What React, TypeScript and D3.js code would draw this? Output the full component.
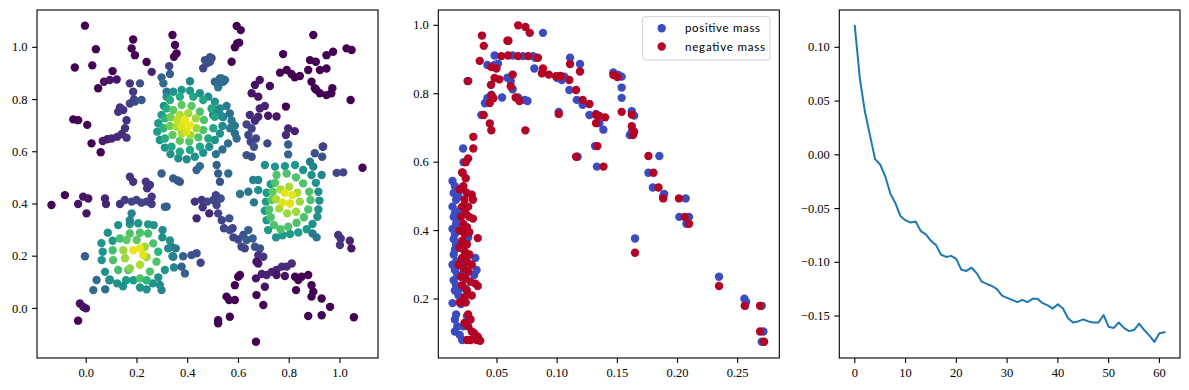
import React from "react";
import * as d3 from "d3";

const W = 1189;
const H = 390;
const top = 10;
const bottom = 358;

// ---- panel 1: field points [x, y, colour value]
const p1XTicks = [0, 0.2, 0.4, 0.6, 0.8, 1.0];
const p1YTicks = [0, 0.2, 0.4, 0.6, 0.8, 1.0];
const p1Outer: [number, number, number][] = [
  [-0.005, 1.083, 0], [0.038, 0.993, 0], [-0.045, 0.923, 0], [0.024, 0.931, 0], [0.047, 0.843, 0],
  [0.07, 0.868, 0.05], [0.093, 0.875, 0.05], [0.104, 0.909, 0], [0.12, 0.877, 0.05],
  [-0.051, 0.724, 0], [-0.032, 0.721, 0], [0.004, 0.703, 0], [0.021, 0.632, 0], [0.057, 0.598, 0],
  [0.065, 0.641, 0.08], [0.083, 0.648, 0.08], [0.1, 0.651, 0.1], [0.122, 0.657, 0.1], [0.14, 0.668, 0.12], [0.159, 0.654, 0.15],
  [0.133, 0.77, 0.15], [0.146, 0.76, 0.15], [0.126, 0.753, 0.15], [0.159, 0.721, 0.15], [0.153, 0.69, 0.15],
  [0.172, 0.862, 0.15], [0.185, 0.83, 0.17], [0.188, 0.8, 0.18], [0.172, 0.785, 0.2], [0.192, 0.792, 0.22], [0.212, 0.862, 0.25], [0.218, 0.798, 0.28],
  [0.185, 1.03, 0], [0.179, 0.996, 0], [0.192, 0.97, 0], [0.238, 0.944, 0], [0.258, 0.906, 0.1],
  [0.297, 0.885, 0.32], [0.304, 0.862, 0.35], [0.317, 0.83, 0.38],
  [0.34, 1.047, 0], [0.35, 1.009, 0], [0.356, 0.977, 0], [0.346, 0.964, 0], [0.327, 0.928, 0.2], [0.33, 0.898, 0.3],
  [0.409, 0.87, 0.45], [0.461, 0.92, 0.2], [0.475, 0.939, 0.22], [0.494, 0.958, 0.2], [0.488, 0.945, 0.25],
  [0.507, 0.868, 0.3], [0.527, 0.881, 0.35], [0.54, 0.868, 0.35], [0.52, 0.847, 0.4],
  [0.593, 1.082, 0], [0.609, 1.066, 0], [0.595, 1.015, 0], [0.586, 1.0, 0], [0.603, 1.018, 0], [0.573, 0.945, 0],
  [0.776, 0.974, 0], [0.895, 1.047, 0], [0.947, 0.97, 0], [0.973, 0.983, 0], [1.026, 0.996, 0], [1.046, 0.99, 0],
  [0.882, 0.951, 0], [0.905, 0.945, 0], [0.947, 0.919, 0], [0.921, 0.913, 0],
  [0.764, 0.903, 0], [0.79, 0.913, 0], [0.809, 0.898, 0], [0.822, 0.885, 0], [0.842, 0.89, 0], [0.875, 0.913, 0],
  [0.888, 0.868, 0], [0.901, 0.843, 0], [0.921, 0.824, 0], [0.947, 0.817, 0], [0.966, 0.824, 0], [0.97, 0.843, 0], [0.907, 0.837, 0],
  [1.042, 0.798, 0], [0.684, 0.875, 0.05], [0.665, 0.856, 0.05], [0.652, 0.824, 0.05], [0.678, 0.811, 0.05], [0.724, 0.852, 0.02],
  [0.787, 0.773, 0], [0.684, 0.766, 0.1], [0.704, 0.775, 0.1], [0.678, 0.734, 0.1], [0.665, 0.719, 0.12], [0.645, 0.741, 0.12],
  [0.717, 0.738, 0.05], [0.75, 0.735, 0.05],
  [0.632, 0.705, 0.2], [0.652, 0.689, 0.2], [0.639, 0.664, 0.22], [0.648, 0.638, 0.2], [0.669, 0.651, 0.2], [0.714, 0.632, 0.22],
  [0.796, 0.689, 0.1], [0.822, 0.679, 0.1], [0.787, 0.664, 0.12], [0.796, 0.628, 0.3], [0.796, 0.59, 0.32],
  [0.934, 0.62, 0.2], [0.901, 0.594, 0.25], [0.93, 0.581, 0.25], [0.632, 0.587, 0.25], [0.652, 0.581, 0.25], [0.661, 0.619, 0.25],
  [1.089, 0.539, 0], [0.987, 0.519, 0.2], [1.013, 0.521, 0.2],
  [0.559, 0.632, 0.35], [0.537, 0.609, 0.35], [0.511, 0.591, 0.38],
  [0.573, 0.72, 0.4], [0.586, 0.7, 0.4], [0.567, 0.69, 0.42], [0.54, 0.733, 0.4],
  [0.508, 0.76, 0.45], [0.527, 0.741, 0.45], [0.5, 0.741, 0.45], [0.521, 0.868, 0.35], [0.547, 0.875, 0.35], [0.534, 0.881, 0.35],
  [0.468, 0.951, 0.25], [0.488, 0.962, 0.25], [0.553, 0.775, 0.4], [0.566, 0.747, 0.35], [0.586, 0.67, 0.35], [0.593, 0.651, 0.35],
  [0.297, 0.517, 0.3], [0.343, 0.498, 0.28], [0.369, 0.485, 0.25], [0.36, 0.49, 0.28], [0.435, 0.53, 0.3], [0.448, 0.545, 0.35],
  [0.514, 0.549, 0.32], [0.52, 0.517, 0.3], [0.527, 0.485, 0.25], [0.56, 0.517, 0.35],
  // middle diagonal band
  [0.428, 0.409, 0.15], [0.455, 0.415, 0.15], [0.477, 0.409, 0.2], [0.501, 0.415, 0.2], [0.514, 0.396, 0.2], [0.52, 0.364, 0.2],
  [0.534, 0.338, 0.2], [0.543, 0.307, 0.2], [0.566, 0.3, 0.25], [0.58, 0.272, 0.2], [0.599, 0.264, 0.2], [0.619, 0.281, 0.25],
  [0.639, 0.3, 0.3], [0.632, 0.262, 0.3], [0.656, 0.268, 0.3], [0.665, 0.236, 0.25], [0.685, 0.23, 0.25], [0.678, 0.204, 0.15],
  [0.698, 0.198, 0.15], [0.612, 0.236, 0.2], [0.625, 0.23, 0.2], [0.564, 0.345, 0.25], [0.53, 0.421, 0.25], [0.511, 0.434, 0.2],
  [0.485, 0.364, 0.1], [0.435, 0.345, 0.1], [0.459, 0.387, 0.15], [0.577, 0.307, 0.2],
  // bottom right
  [0.671, 0.179, 0.05], [0.678, 0.172, 0.05], [0.606, 0.128, 0], [0.599, 0.121, 0], [0.586, 0.089, 0],
  [0.553, 0.045, 0], [0.563, 0.032, 0], [0.586, 0.032, 0], [0.566, -0.032, 0], [0.52, -0.045, 0], [0.52, -0.057, 0],
  [0.671, 0.051, 0], [0.698, 0.013, 0], [0.669, -0.128, 0], [0.669, 0.115, 0.05], [0.704, 0.083, 0.05],
  [0.692, 0.132, 0.1], [0.711, 0.128, 0.1], [0.731, 0.14, 0.1], [0.75, 0.147, 0.1], [0.771, 0.16, 0.12], [0.79, 0.16, 0.12], [0.81, 0.172, 0.12],
  [0.75, 0.128, 0.05], [0.783, 0.124, 0.05], [0.823, 0.121, 0], [0.836, 0.109, 0], [0.849, 0.121, 0], [0.827, 0.07, 0],
  [0.875, 0.128, 0], [0.888, 0.089, 0], [0.895, 0.064, 0], [0.888, 0.045, 0], [0.928, 0.038, 0], [0.961, 0.006, 0],
  [0.875, -0.029, 0], [0.928, -0.026, 0], [1.055, -0.034, 0],
  [0.993, 0.281, 0.15], [1.003, 0.268, 0.15], [1.0, 0.243, 0.15], [1.039, 0.259, 0.1], [1.045, 0.23, 0.05],
  // bottom left
  [-0.005, 0.2, 0.3], [0.041, 0.109, 0.35], [0.028, 0.07, 0.35], [-0.025, 0.019, 0.05], [-0.012, 0.006, 0.05], [-0.001, 0, 0.05],
  [-0.032, -0.047, 0], [-0.084, 0.434, 0], [-0.137, 0.396, 0], [-0.032, 0.4, 0.05], [-0.012, 0.428, 0.05], [0.008, 0.421, 0.05],
  [0.001, 0.364, 0.05], [0.074, 0.421, 0.1], [0.078, 0.4, 0.1],
  [0.133, 0.4, 0.15], [0.152, 0.415, 0.18], [0.179, 0.409, 0.2], [0.198, 0.415, 0.2], [0.218, 0.405, 0.2], [0.238, 0.409, 0.2], [0.258, 0.4, 0.18],
  [0.172, 0.504, 0.15], [0.185, 0.485, 0.15], [0.235, 0.485, 0.15], [0.24, 0.46, 0.15], [0.258, 0.428, 0.15], [0.251, 0.473, 0.15],
  [0.317, 0.39, 0.3], [0.179, 0.364, 0.45], [0.31, 0.389, 0.3],
  [0.336, 0.236, 0.4], [0.353, 0.23, 0.4], [0.343, 0.198, 0.35], [0.382, 0.2, 0.3], [0.415, 0.204, 0.25], [0.435, 0.211, 0.25],
  [0.451, 0.175, 0.2], [0.376, 0.16, 0.3], [0.389, 0.134, 0.3], [0.297, 0.07, 0.45], [0.091, 0.108, 0.4], [0.075, 0.073, 0.35],
  // near cluster 3
  [0.678, 0.492, 0.45], [0.658, 0.492, 0.45], [0.639, 0.447, 0.4], [0.661, 0.406, 0.4], [0.606, 0.438, 0.4], [0.678, 0.453, 0.5],
  [0.882, 0.562, 0.4], [0.895, 0.543, 0.45], [0.928, 0.511, 0.45], [0.932, 0.619, 0.2], [0.892, 0.287, 0.4], [0.908, 0.272, 0.4],
];
const p1Rings: [number, number, number][] = [
  // cluster at (0.4, 0.7)
  [0.317, 0.811, 0.5], [0.343, 0.83, 0.52], [0.376, 0.837, 0.52], [0.409, 0.834, 0.52], [0.448, 0.824, 0.5], [0.481, 0.811, 0.5],
  [0.507, 0.792, 0.5], [0.527, 0.766, 0.48], [0.537, 0.734, 0.48], [0.537, 0.699, 0.48], [0.527, 0.67, 0.5], [0.507, 0.645, 0.5],
  [0.485, 0.619, 0.5], [0.461, 0.596, 0.5], [0.428, 0.581, 0.5], [0.396, 0.571, 0.48], [0.363, 0.575, 0.5], [0.332, 0.591, 0.5],
  [0.31, 0.616, 0.52], [0.29, 0.645, 0.52], [0.28, 0.677, 0.55], [0.284, 0.709, 0.55], [0.297, 0.741, 0.55], [0.306, 0.775, 0.52],
  [0.33, 0.798, 0.62], [0.369, 0.811, 0.62], [0.422, 0.811, 0.6], [0.461, 0.798, 0.6], [0.494, 0.766, 0.6], [0.507, 0.734, 0.6],
  [0.501, 0.69, 0.6], [0.481, 0.651, 0.6], [0.448, 0.619, 0.6], [0.409, 0.607, 0.6], [0.369, 0.6, 0.6], [0.336, 0.619, 0.6],
  [0.31, 0.651, 0.62], [0.304, 0.69, 0.65], [0.31, 0.728, 0.65], [0.317, 0.766, 0.62],
  [0.343, 0.76, 0.75], [0.376, 0.779, 0.75], [0.415, 0.775, 0.75], [0.448, 0.753, 0.72], [0.464, 0.722, 0.72], [0.461, 0.683, 0.72],
  [0.442, 0.655, 0.72], [0.406, 0.639, 0.72], [0.369, 0.642, 0.75], [0.34, 0.664, 0.75], [0.33, 0.699, 0.78], [0.332, 0.732, 0.78],
  [0.369, 0.741, 0.88], [0.402, 0.747, 0.86], [0.432, 0.728, 0.85], [0.435, 0.69, 0.85], [0.411, 0.664, 0.86], [0.376, 0.67, 0.88],
  [0.356, 0.696, 0.88], [0.359, 0.722, 0.9], [0.389, 0.722, 0.97], [0.409, 0.702, 0.97], [0.396, 0.677, 0.95], [0.376, 0.699, 0.95],
  // cluster at (0.2, 0.2)
  [0.126, 0.319, 0.5], [0.172, 0.323, 0.52], [0.205, 0.326, 0.52], [0.244, 0.322, 0.52], [0.266, 0.319, 0.5], [0.301, 0.3, 0.48],
  [0.3, 0.272, 0.5], [0.323, 0.23, 0.48], [0.34, 0.2, 0.45], [0.346, 0.157, 0.45], [0.31, 0.147, 0.5], [0.284, 0.119, 0.5],
  [0.262, 0.096, 0.5], [0.238, 0.073, 0.5], [0.212, 0.08, 0.52], [0.186, 0.108, 0.55], [0.157, 0.108, 0.55], [0.122, 0.096, 0.5],
  [0.093, 0.111, 0.5], [0.074, 0.14, 0.5], [0.061, 0.185, 0.5], [0.065, 0.217, 0.52], [0.104, 0.259, 0.55], [0.172, 0.338, 0.45],
  [0.085, 0.29, 0.5], [0.06, 0.25, 0.52], [0.33, 0.26, 0.5], [0.29, 0.09, 0.48], [0.145, 0.085, 0.5],
  [0.133, 0.268, 0.7], [0.172, 0.287, 0.72], [0.212, 0.29, 0.72], [0.244, 0.287, 0.7], [0.264, 0.249, 0.72], [0.284, 0.217, 0.65],
  [0.277, 0.179, 0.72], [0.251, 0.141, 0.72], [0.212, 0.115, 0.72], [0.166, 0.147, 0.72], [0.126, 0.147, 0.7], [0.106, 0.185, 0.72],
  [0.104, 0.223, 0.7], [0.199, 0.262, 0.75], [0.159, 0.262, 0.75], [0.238, 0.108, 0.65],
  [0.146, 0.223, 0.85], [0.153, 0.192, 0.85], [0.172, 0.153, 0.82], [0.238, 0.197, 0.85], [0.231, 0.236, 0.85], [0.212, 0.167, 0.88],
  [0.186, 0.223, 0.97], [0.212, 0.23, 0.97], [0.225, 0.204, 0.95],
  // cluster at (0.8, 0.4)
  [0.704, 0.549, 0.5], [0.744, 0.543, 0.52], [0.783, 0.545, 0.52], [0.823, 0.549, 0.52], [0.855, 0.53, 0.5], [0.888, 0.511, 0.5],
  [0.905, 0.481, 0.5], [0.915, 0.447, 0.5], [0.919, 0.413, 0.5], [0.915, 0.379, 0.5], [0.911, 0.351, 0.5], [0.892, 0.323, 0.5],
  [0.869, 0.303, 0.55], [0.836, 0.291, 0.55], [0.803, 0.285, 0.55], [0.774, 0.28, 0.55], [0.748, 0.272, 0.5], [0.717, 0.3, 0.55],
  [0.711, 0.338, 0.55], [0.704, 0.374, 0.55], [0.708, 0.409, 0.55], [0.711, 0.443, 0.55], [0.727, 0.476, 0.55],
  [0.75, 0.511, 0.72], [0.79, 0.517, 0.72], [0.827, 0.502, 0.72], [0.855, 0.479, 0.72], [0.879, 0.447, 0.72], [0.884, 0.415, 0.72],
  [0.875, 0.379, 0.72], [0.858, 0.349, 0.72], [0.829, 0.328, 0.72], [0.796, 0.313, 0.72], [0.766, 0.303, 0.72], [0.74, 0.319, 0.72],
  [0.727, 0.349, 0.72], [0.721, 0.379, 0.72], [0.731, 0.415, 0.75], [0.735, 0.447, 0.75], [0.744, 0.481, 0.72],
  [0.766, 0.456, 0.87], [0.8, 0.466, 0.87], [0.832, 0.443, 0.87], [0.842, 0.409, 0.85], [0.827, 0.37, 0.85], [0.792, 0.364, 0.85],
  [0.761, 0.383, 0.87], [0.748, 0.418, 0.87], [0.783, 0.443, 0.96], [0.813, 0.434, 0.96], [0.803, 0.402, 0.95], [0.774, 0.406, 0.95],
];

// ---- panel 2: positive / negative mass
const p2XTicks = [0.05, 0.1, 0.15, 0.2, 0.25];
const p2YTicks = [0.2, 0.4, 0.6, 0.8, 1.0];
const positiveMass: [number, number][] = [
  [0.0882, 0.978], [0.048, 0.912], [0.063, 0.912], [0.0717, 0.91], [0.08, 0.91], [0.0818, 0.905],
  [0.042, 0.884], [0.048, 0.884], [0.0508, 0.888], [0.081, 0.874], [0.1, 0.846], [0.106, 0.85],
  [0.0255, 0.837], [0.045, 0.826], [0.0586, 0.847], [0.0614, 0.837], [0.063, 0.813], [0.0675, 0.789], [0.073, 0.782], [0.0753, 0.779],
  [0.0542, 0.789], [0.042, 0.787], [0.0453, 0.797], [0.04, 0.772], [0.037, 0.738], [0.0218, 0.64], [0.1013, 0.747],
  [0.1107, 0.905], [0.119, 0.887], [0.1038, 0.84], [0.1101, 0.811], [0.1163, 0.782], [0.1212, 0.768], [0.1268, 0.738],
  [0.1323, 0.741], [0.135, 0.714], [0.1384, 0.695], [0.1315, 0.647], [0.117, 0.616], [0.133, 0.587],
  [0.1467, 0.862], [0.1508, 0.855], [0.1536, 0.85], [0.1536, 0.818], [0.1536, 0.788], [0.162, 0.749], [0.164, 0.736],
  [0.162, 0.689], [0.1604, 0.679], [0.1849, 0.618], [0.1758, 0.569], [0.1795, 0.526], [0.1889, 0.507], [0.1881, 0.5],
  [0.2068, 0.494], [0.2015, 0.44], [0.2096, 0.44], [0.2074, 0.42], [0.1647, 0.377], [0.2345, 0.265],
  [0.2556, 0.201], [0.257, 0.191], [0.256, 0.18], [0.27, 0.18], [0.2714, 0.105], [0.27, 0.075],
  [0.0222, 0.6], [0.013, 0.545], [0.015, 0.53], [0.014, 0.51], [0.016, 0.49], [0.013, 0.47], [0.015, 0.45], [0.014, 0.44],
  [0.016, 0.42], [0.013, 0.405], [0.015, 0.39], [0.014, 0.375], [0.016, 0.36], [0.015, 0.345], [0.014, 0.33], [0.016, 0.31],
  [0.013, 0.3], [0.015, 0.285], [0.017, 0.27], [0.014, 0.255], [0.016, 0.24], [0.015, 0.225], [0.018, 0.21], [0.013, 0.188],
  [0.016, 0.155], [0.015, 0.14], [0.017, 0.12], [0.015, 0.105], [0.019, 0.095], [0.021, 0.08], [0.02, 0.185], [0.018, 0.5],
  [0.019, 0.46], [0.02, 0.4], [0.019, 0.35], [0.02, 0.3], [0.021, 0.27], [0.019, 0.23], [0.023, 0.29], [0.024, 0.23],
  [0.026, 0.38], [0.032, 0.32], [0.033, 0.285], [0.031, 0.27], [0.025, 0.15], [0.022, 0.12], [0.018, 0.44], [0.022, 0.52],
];
const negativeMass: [number, number][] = [
  [0.0676, 1.0], [0.0736, 0.995], [0.0772, 0.978], [0.0375, 0.97], [0.039, 0.94], [0.0586, 0.955], [0.0595, 0.955],
  [0.0536, 0.91], [0.0592, 0.912], [0.0675, 0.91], [0.076, 0.91], [0.084, 0.905], [0.0356, 0.896], [0.0453, 0.878], [0.0495, 0.874],
  [0.0882, 0.874], [0.0873, 0.86], [0.093, 0.856], [0.099, 0.851], [0.103, 0.851], [0.026, 0.837], [0.048, 0.846], [0.052, 0.842],
  [0.045, 0.826], [0.063, 0.856], [0.0614, 0.822], [0.0655, 0.789], [0.0686, 0.779], [0.0453, 0.795], [0.047, 0.787], [0.044, 0.773],
  [0.0389, 0.738], [0.044, 0.713], [0.0453, 0.693], [0.0736, 0.693], [0.0303, 0.674], [0.0303, 0.64], [0.026, 0.611], [0.1013, 0.741],
  [0.1107, 0.887], [0.119, 0.865], [0.1024, 0.852], [0.1101, 0.84], [0.1157, 0.811], [0.1212, 0.782], [0.1268, 0.77],
  [0.1323, 0.738], [0.135, 0.735], [0.1398, 0.731], [0.1323, 0.714], [0.1334, 0.647], [0.1157, 0.616], [0.1385, 0.587],
  [0.1467, 0.855], [0.15, 0.849], [0.1536, 0.747], [0.162, 0.739], [0.162, 0.705], [0.164, 0.689], [0.163, 0.679],
  [0.1758, 0.618], [0.18, 0.569], [0.1842, 0.526], [0.1881, 0.494], [0.2012, 0.494], [0.206, 0.44], [0.2096, 0.42],
  [0.1647, 0.335], [0.2345, 0.238], [0.256, 0.18], [0.2686, 0.18], [0.2686, 0.105], [0.272, 0.075],
  [0.024, 0.6], [0.0215, 0.569], [0.024, 0.553], [0.021, 0.57], [0.022, 0.53], [0.019, 0.52], [0.025, 0.51], [0.029, 0.505],
  [0.03, 0.49], [0.023, 0.49], [0.021, 0.47], [0.026, 0.47], [0.024, 0.45], [0.02, 0.44], [0.027, 0.44], [0.03, 0.435],
  [0.022, 0.42], [0.025, 0.41], [0.019, 0.4], [0.023, 0.39], [0.027, 0.395], [0.021, 0.37], [0.025, 0.36], [0.034, 0.378],
  [0.019, 0.35], [0.023, 0.34], [0.027, 0.33], [0.021, 0.32], [0.025, 0.31], [0.018, 0.3], [0.029, 0.3], [0.022, 0.29],
  [0.026, 0.28], [0.02, 0.265], [0.024, 0.26], [0.028, 0.25], [0.032, 0.245], [0.034, 0.238], [0.021, 0.24], [0.025, 0.225],
  [0.029, 0.21], [0.023, 0.205], [0.019, 0.19], [0.024, 0.19], [0.026, 0.155], [0.028, 0.14], [0.023, 0.13], [0.026, 0.12],
  [0.029, 0.105], [0.031, 0.1], [0.034, 0.09], [0.028, 0.08], [0.033, 0.08], [0.036, 0.078], [0.025, 0.08],
];

// ---- panel 3: loss curve
const p3XTicks = [0, 10, 20, 30, 40, 50, 60];
const p3YTicks = [-0.15, -0.1, -0.05, 0, 0.05, 0.1];
const lossValues = [
  0.12, 0.071, 0.04, 0.018, -0.004, -0.009, -0.02, -0.036, -0.045, -0.057,
  -0.061, -0.063, -0.062, -0.071, -0.074, -0.08, -0.084, -0.093, -0.095, -0.094,
  -0.097, -0.107, -0.108, -0.105, -0.11, -0.118, -0.12, -0.122, -0.125, -0.131,
  -0.133, -0.135, -0.137, -0.135, -0.137, -0.134, -0.134, -0.138, -0.14, -0.143,
  -0.139, -0.143, -0.152, -0.156, -0.155, -0.153, -0.155, -0.156, -0.156, -0.149,
  -0.16, -0.161, -0.156, -0.161, -0.164, -0.163, -0.157, -0.163, -0.168, -0.174,
  -0.166, -0.165,
];

const tickFont = "Liberation Serif, DejaVu Serif, serif";
const fmtMinus = (s: string) => s.replace("-", "\u2212");

type AxesProps = {
  left: number;
  right: number;
  x: d3.ScaleLinear<number, number>;
  y: d3.ScaleLinear<number, number>;
  xTicks: number[];
  yTicks: number[];
  xFmt: (v: number) => string;
  yFmt: (v: number) => string;
  children?: React.ReactNode;
};

const Axes = ({ left, right, x, y, xTicks, yTicks, xFmt, yFmt, children }: AxesProps) => {
  const tl = 4.9;
  const id = `clip${Math.round(left)}`;
  return (
    <g>
      <defs>
        <clipPath id={id}>
          <rect x={left} y={top} width={right - left} height={bottom - top} />
        </clipPath>
      </defs>
      <g clipPath={`url(#${id})`}>{children}</g>
      <rect x={left} y={top} width={right - left} height={bottom - top} fill="none" stroke="#000" strokeWidth={1.1} />
      {xTicks.map((t) => (
        <g key={"x" + t}>
          <line x1={x(t)} x2={x(t)} y1={bottom} y2={bottom + tl} stroke="#000" strokeWidth={1.1} />
          <text x={x(t)} y={bottom + 18.5} textAnchor="middle" fontFamily={tickFont} fontSize={12.5} fill="#000">
            {fmtMinus(xFmt(t))}
          </text>
        </g>
      ))}
      {yTicks.map((t) => (
        <g key={"y" + t}>
          <line x1={left - tl} x2={left} y1={y(t)} y2={y(t)} stroke="#000" strokeWidth={1.1} />
          <text x={left - 9.5} y={y(t)} dy="0.33em" textAnchor="end" fontFamily={tickFont} fontSize={12.5} fill="#000">
            {fmtMinus(yFmt(t))}
          </text>
        </g>
      ))}
    </g>
  );
};

const R = 4.2;

export default function App() {
  // panel 1
  const x1 = d3.scaleLinear().domain([-0.194, 1.15]).range([37, 378]);
  const y1 = d3.scaleLinear().domain([-0.19, 1.143]).range([bottom, top]);
  // panel 2
  const x2 = d3.scaleLinear().domain([0.0012, 0.2846]).range([438.3, 779.3]);
  const y2 = d3.scaleLinear().domain([0.0275, 1.0448]).range([bottom, top]);
  // panel 3
  const x3 = d3.scaleLinear().domain([-3.05, 64.05]).range([839.3, 1180]);
  const y3 = d3.scaleLinear().domain([-0.189, 0.1347]).range([bottom, top]);
  const line = d3
    .line<number>()
    .x((_, i) => x3(i))
    .y((d) => y3(d));

  const blue = "#3b4cc0";
  const red = "#b40426";

  return (
    <svg width={W} height={H} style={{ position: "absolute", left: 0, top: 0, background: "#fff" }}>
      <rect width={W} height={H} fill="#fff" />
      <Axes left={37} right={378} x={x1} y={y1} xTicks={p1XTicks} yTicks={p1YTicks} xFmt={d3.format(".1f")} yFmt={d3.format(".1f")}>
        {[...p1Outer, ...p1Rings].map((d, i) => (
          <circle key={i} cx={x1(d[0])} cy={y1(d[1])} r={R} fill={d3.interpolateViridis(d[2])} />
        ))}
      </Axes>
      <Axes left={438.3} right={779.3} x={x2} y={y2} xTicks={p2XTicks} yTicks={p2YTicks} xFmt={d3.format(".2f")} yFmt={d3.format(".1f")}>
        {positiveMass.map((d, i) => (
          <circle key={"p" + i} cx={x2(d[0])} cy={y2(d[1])} r={R} fill={blue} />
        ))}
        {negativeMass.map((d, i) => (
          <circle key={"n" + i} cx={x2(d[0])} cy={y2(d[1])} r={R} fill={red} />
        ))}
      </Axes>
      <g>
        <rect x={642.7} y={16.7} width={127.3} height={43.3} rx={2.5} fill="#fff" fillOpacity={0.8} stroke="#d0d0d0" strokeWidth={1} />
        <circle cx={661.7} cy={28.3} r={R} fill={blue} />
        <circle cx={661.7} cy={46.5} r={R} fill={red} />
        <text x={685} y={32} fontFamily="Lato, Open Sans, sans-serif" fontSize={11.5} fill="#000" textLength={75} lengthAdjust="spacing">
          positive mass
        </text>
        <text x={685} y={50.5} fontFamily="Lato, Open Sans, sans-serif" fontSize={11.5} fill="#000" textLength={80} lengthAdjust="spacing">
          negative mass
        </text>
      </g>
      <Axes left={839.3} right={1180} x={x3} y={y3} xTicks={p3XTicks} yTicks={p3YTicks} xFmt={d3.format("d")} yFmt={d3.format(".2f")}>
        <path d={line(lossValues) ?? ""} fill="none" stroke="#1f77b4" strokeWidth={2} strokeLinejoin="round" strokeLinecap="square" />
      </Axes>
    </svg>
  );
}
